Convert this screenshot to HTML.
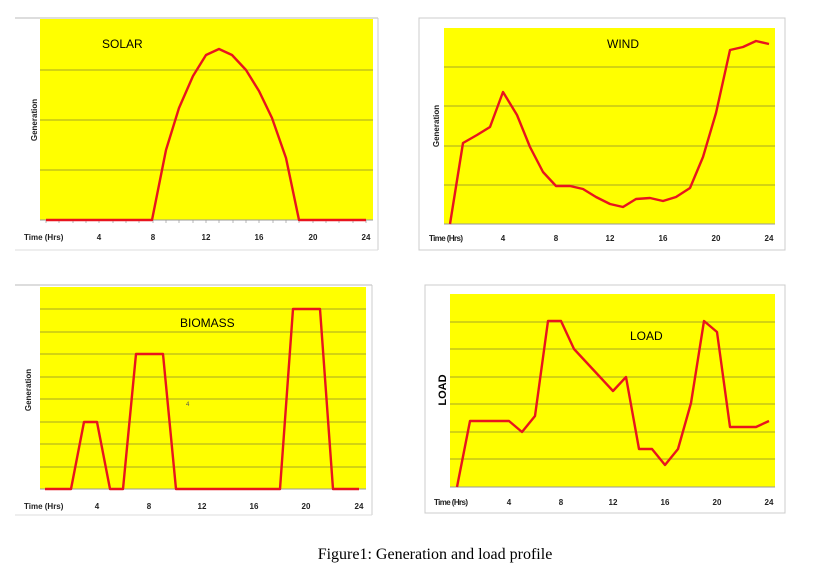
<!DOCTYPE html>
<html><head><meta charset="utf-8"><style>
html,body{margin:0;padding:0;background:#fff;}
svg{display:block;}
.t{font-family:"Liberation Sans",sans-serif;font-size:8px;font-weight:bold;fill:#222;}
.l{font-family:"Liberation Sans",sans-serif;font-size:12px;fill:#000;}
.g{stroke:#8a8a30;stroke-width:0.8;}
.s{fill:none;stroke:#e8141e;stroke-width:2.4;stroke-linejoin:round;}
.tk{stroke:#999;stroke-width:0.7;}
</style></head><body>
<svg width="824" height="569" viewBox="0 0 824 569" xmlns="http://www.w3.org/2000/svg">
<!-- SOLAR -->
<line x1="15" y1="18" x2="378" y2="18" stroke="#bbb"/>
<line x1="378" y1="18" x2="378" y2="250" stroke="#ccc"/>
<line x1="15" y1="250" x2="378" y2="250" stroke="#ddd"/>
<rect x="40" y="19" width="333" height="201" fill="#ffff00"/>
<g class="g"><line x1="40" y1="70" x2="373" y2="70"/><line x1="40" y1="120" x2="373" y2="120"/><line x1="40" y1="170" x2="373" y2="170"/></g>
<line x1="40" y1="220" x2="373" y2="220" stroke="#999"/>
<g class="tk">
<line x1="46" y1="220" x2="46" y2="223"/><line x1="59" y1="220" x2="59" y2="223"/><line x1="73" y1="220" x2="73" y2="223"/><line x1="86" y1="220" x2="86" y2="223"/><line x1="99" y1="220" x2="99" y2="223"/><line x1="113" y1="220" x2="113" y2="223"/><line x1="126" y1="220" x2="126" y2="223"/><line x1="139" y1="220" x2="139" y2="223"/><line x1="153" y1="220" x2="153" y2="223"/><line x1="166" y1="220" x2="166" y2="223"/><line x1="179" y1="220" x2="179" y2="223"/><line x1="193" y1="220" x2="193" y2="223"/><line x1="206" y1="220" x2="206" y2="223"/><line x1="219" y1="220" x2="219" y2="223"/><line x1="233" y1="220" x2="233" y2="223"/><line x1="246" y1="220" x2="246" y2="223"/><line x1="259" y1="220" x2="259" y2="223"/><line x1="273" y1="220" x2="273" y2="223"/><line x1="286" y1="220" x2="286" y2="223"/><line x1="299" y1="220" x2="299" y2="223"/><line x1="313" y1="220" x2="313" y2="223"/><line x1="326" y1="220" x2="326" y2="223"/><line x1="339" y1="220" x2="339" y2="223"/><line x1="353" y1="220" x2="353" y2="223"/><line x1="366" y1="220" x2="366" y2="223"/></g>
<polyline class="s" points="46,220 152,220 166,150 179,108 193,76 206,55 219,49 232,55 246,70 259,91 272,118 286,158 299,220 366,220"/>
<text class="l" x="102" y="48">SOLAR</text>
<text class="t" x="37" y="120" transform="rotate(-90 37 120)" text-anchor="middle">Generation</text>
<text class="t" x="24" y="240">Time (Hrs)</text>
<g class="t" text-anchor="middle"><text x="99" y="240">4</text><text x="153" y="240">8</text><text x="206" y="240">12</text><text x="259" y="240">16</text><text x="313" y="240">20</text><text x="366" y="240">24</text></g>

<!-- WIND -->
<rect x="419" y="18" width="366" height="232" fill="none" stroke="#ccc"/>
<rect x="444" y="28" width="331" height="196" fill="#ffff00"/>
<g class="g"><line x1="444" y1="67" x2="775" y2="67"/><line x1="444" y1="106" x2="775" y2="106"/><line x1="444" y1="146" x2="775" y2="146"/><line x1="444" y1="185" x2="775" y2="185"/></g>
<line x1="444" y1="224" x2="775" y2="224" stroke="#999"/>
<polyline class="s" points="450,224 463,143 477,135 490,127 503,92 517,115 530,147 543,172 556,186 570,186 583,189 596,197 610,204 623,207 636,199 650,198 663,201 676,197 690,188 703,157 716,113 730,50 743,47 756,41 769,44"/>
<text class="l" x="607" y="48">WIND</text>
<text class="t" x="439" y="126" transform="rotate(-90 439 126)" text-anchor="middle">Generation</text>
<text class="t" x="429" y="241" style="letter-spacing:-0.6px">Time (Hrs)</text>
<g class="t" text-anchor="middle"><text x="503" y="241">4</text><text x="556" y="241">8</text><text x="610" y="241">12</text><text x="663" y="241">16</text><text x="716" y="241">20</text><text x="769" y="241">24</text></g>

<!-- BIOMASS -->
<line x1="15" y1="285" x2="372" y2="285" stroke="#bbb"/>
<line x1="372" y1="285" x2="372" y2="515" stroke="#ccc"/>
<line x1="15" y1="515" x2="372" y2="515" stroke="#ddd"/>
<rect x="40" y="287" width="326" height="202" fill="#ffff00"/>
<g class="g"><line x1="40" y1="309" x2="366" y2="309"/><line x1="40" y1="332" x2="366" y2="332"/><line x1="40" y1="354" x2="366" y2="354"/><line x1="40" y1="377" x2="366" y2="377"/><line x1="40" y1="399" x2="366" y2="399"/><line x1="40" y1="422" x2="366" y2="422"/><line x1="40" y1="444" x2="366" y2="444"/><line x1="40" y1="467" x2="366" y2="467"/></g>
<line x1="40" y1="489" x2="366" y2="489" stroke="#999"/>
<polyline class="s" points="45,489 71,489 84,422 97,422 110,489 123,489 136,354 149,354 163,354 176,489 280,489 293,309 306,309 320,309 333,489 359,489"/>
<text class="l" x="180" y="327">BIOMASS</text>
<text x="186" y="406" style="font-family:'Liberation Sans',sans-serif;font-size:6px;fill:#555">4</text>
<text class="t" x="31" y="390" transform="rotate(-90 31 390)" text-anchor="middle">Generation</text>
<text class="t" x="24" y="509">Time (Hrs)</text>
<g class="t" text-anchor="middle"><text x="97" y="509">4</text><text x="149" y="509">8</text><text x="202" y="509">12</text><text x="254" y="509">16</text><text x="306" y="509">20</text><text x="359" y="509">24</text></g>

<!-- LOAD -->
<rect x="425" y="285" width="360" height="228" fill="none" stroke="#ccc"/>
<rect x="450" y="294" width="325" height="193" fill="#ffff00"/>
<g class="g"><line x1="450" y1="322" x2="775" y2="322"/><line x1="450" y1="349" x2="775" y2="349"/><line x1="450" y1="377" x2="775" y2="377"/><line x1="450" y1="404" x2="775" y2="404"/><line x1="450" y1="432" x2="775" y2="432"/><line x1="450" y1="459" x2="775" y2="459"/></g>
<line x1="450" y1="487" x2="775" y2="487" stroke="#999"/>
<polyline class="s" points="457,487 470,421 483,421 496,421 509,421 522,432 535,416 548,321 561,321 574,349 587,363 600,377 613,391 626,377 639,449 652,449 665,465 678,449 691,403 704,321 717,332 730,427 743,427 756,427 769,421"/>
<text class="l" x="630" y="340">LOAD</text>
<text x="446" y="390" transform="rotate(-90 446 390)" text-anchor="middle" style="font-family:'Liberation Sans',sans-serif;font-size:11px;font-weight:bold">LOAD</text>
<text class="t" x="434" y="505" style="letter-spacing:-0.6px">Time (Hrs)</text>
<g class="t" text-anchor="middle"><text x="509" y="505">4</text><text x="561" y="505">8</text><text x="613" y="505">12</text><text x="665" y="505">16</text><text x="717" y="505">20</text><text x="769" y="505">24</text></g>

<text x="435" y="559" text-anchor="middle" style="font-family:'Liberation Serif',serif;font-size:16px;fill:#000">Figure1: Generation and load profile</text>
</svg>
</body></html>
